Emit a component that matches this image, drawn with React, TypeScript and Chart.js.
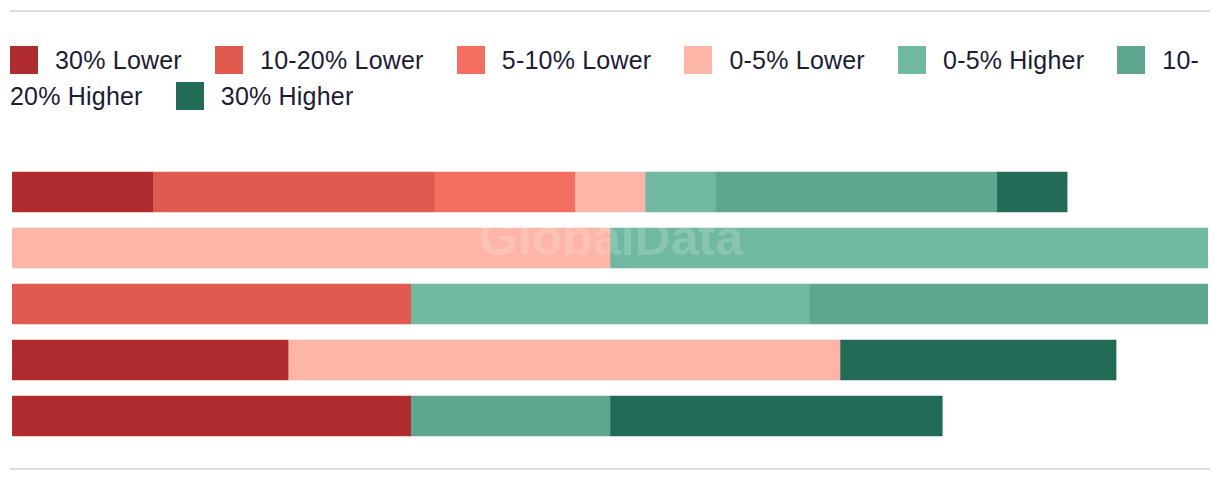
import React, { useEffect, useRef } from "react";
import { Chart, registerables } from "chart.js";

Chart.register(...registerables);

const categories = ["Row 1", "Row 2", "Row 3", "Row 4", "Row 5"];
const seriesNames = [
  "30% Lower",
  "10-20% Lower",
  "5-10% Lower",
  "0-5% Lower",
  "0-5% Higher",
  "10-20% Higher",
  "30% Higher",
];
const seriesColors = ["#AF2C2E", "#E05A4F", "#F46F62", "#FDB5A7", "#70B9A0", "#5FA690", "#216B57"];

const lower30 = [11.76, 0, 0, 23.08, 33.33];
const lower10to20 = [23.53, 0, 33.33, 0, 0];
const lower5to10 = [11.76, 0, 0, 0, 0];
const lower0to5 = [5.88, 50, 0, 46.15, 0];
const higher0to5 = [5.88, 50, 33.33, 0, 0];
const higher10to20 = [23.53, 0, 33.33, 0, 16.67];
const higher30 = [5.88, 0, 0, 23.08, 27.78];

const seriesValues = [lower30, lower10to20, lower5to10, lower0to5, higher0to5, higher10to20, higher30];

const FONT = "'Liberation Sans', Arial, sans-serif";

const watermark = {
  id: "watermark",
  afterDatasetsDraw(chart: any) {
    const { ctx, chartArea, scales } = chart;
    const y = scales.y.getPixelForValue(1) - 7;
    const x = (chartArea.left + chartArea.right) / 2 + 1;
    ctx.save();
    ctx.font = `bold 50px ${FONT}`;
    ctx.textAlign = "center";
    ctx.textBaseline = "middle";
    ctx.fillStyle = "rgba(255,255,255,0.18)";
    ctx.fillText("GlobalData", x, y);
    ctx.restore();
  },
};

export default function App() {
  const canvasRef = useRef<HTMLCanvasElement | null>(null);

  useEffect(() => {
    document.body.style.margin = "0";
    const canvas = canvasRef.current;
    if (!canvas) return;
    const chart = new Chart(canvas, {
      type: "bar",
      data: {
        labels: categories,
        datasets: seriesNames.map((name, i) => ({
          label: name,
          data: seriesValues[i].map((v) => (v === 0 ? null : v)),
          backgroundColor: seriesColors[i],
          borderWidth: 0,
          barThickness: 40,
        })),
      },
      options: {
        indexAxis: "y",
        animation: false,
        responsive: false,
        maintainAspectRatio: false,
        layout: { padding: { left: 12, right: 12, top: 14, bottom: 16 } },
        plugins: {
          legend: { display: false },
          tooltip: { enabled: false },
        },
        scales: {
          x: { stacked: true, min: 0, max: 100, display: false },
          y: { stacked: true, display: false },
        },
      },
      plugins: [watermark],
    });
    return () => chart.destroy();
  }, []);

  const box = (color: string) => (
    <span
      style={{
        display: "inline-block",
        width: 28,
        height: 28,
        background: color,
        verticalAlign: "top",
        marginTop: 4,
        marginRight: 17,
      }}
    />
  );

  return (
    <div style={{ position: "relative", width: 1220, height: 482, background: "#fff", overflow: "hidden" }}>
      <div style={{ position: "absolute", left: 10, top: 10, width: 1200, height: 2, background: "#DCDCDC" }} />
      <div
        style={{
          position: "absolute",
          left: 10,
          top: 42,
          width: 1200,
          fontFamily: FONT,
          fontSize: 25,
          letterSpacing: "0.2px",
          lineHeight: "36px",
          color: "#1C1C33",
        }}
      >
        {seriesNames.map((name, i) => {
          if (name === "10-20% Higher") {
            return (
              <React.Fragment key={name}>
                <span style={{ whiteSpace: "nowrap" }}>
                  {box(seriesColors[i])}
                  {"10-"}
                </span>
                <wbr />
                <span style={{ whiteSpace: "nowrap", marginRight: 26 }}>{"20% Higher"}</span>{" "}
              </React.Fragment>
            );
          }
          return (
            <React.Fragment key={name}>
              <span style={{ whiteSpace: "nowrap", marginRight: i === seriesNames.length - 1 ? 0 : 26 }}>
                {box(seriesColors[i])}
                {name}
              </span>{" "}
            </React.Fragment>
          );
        })}
      </div>
      <canvas
        ref={canvasRef}
        width={1220}
        height={310}
        style={{ position: "absolute", left: 0, top: 150, width: 1220, height: 310 }}
      />
      <div style={{ position: "absolute", left: 10, top: 468, width: 1200, height: 2, background: "#DCDCDC" }} />
    </div>
  );
}
